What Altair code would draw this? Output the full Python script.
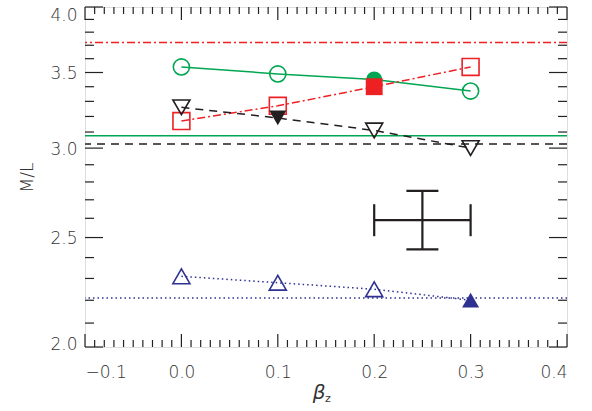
import altair as alt
import pandas as pd

# ---- data ----
beta = [0.0, 0.1, 0.2, 0.3]
ml_circle = [3.54, 3.49, 3.45, 3.37]   # green, solid
ml_square = [3.17, 3.27, 3.40, 3.54]   # red, dash-dot
ml_down = [3.26, 3.19, 3.11, 3.00]     # black, dashed
ml_up = [2.31, 2.28, 2.25, 2.20]       # blue, dotted
filled_circle = [False, False, True, False]
filled_square = [False, False, True, False]
filled_down = [False, True, False, False]
filled_up = [False, False, False, True]

ref_red = 3.72
ref_green = 3.076
ref_black = 3.025
ref_blue = 2.21

err_x = 0.25
err_y = 2.59
err_x_lo, err_x_hi = 0.20, 0.30
err_y_lo, err_y_hi = 2.44, 2.75

x_major = [-0.1, 0.0, 0.1, 0.2, 0.3, 0.4]
x_minor = [round(-0.1 + 0.01 * i, 2) for i in range(51) if i % 10 != 0]
y_major = [2.0, 2.5, 3.0, 3.5, 4.0]
y_minor = [round(2.0 + 0.1 * i, 1) for i in range(21) if i % 5 != 0]

GREEN = "#00a651"
RED = "#ed2024"
BLACK = "#231f20"
BLUE = "#2e3192"
FONT = "DejaVu Sans"

W, H = 482, 340

xscale = alt.Scale(domain=[-0.1, 0.4], nice=False, zero=False)
yscale = alt.Scale(type="log", domain=[2.0, 4.0], nice=False, zero=False)

xaxis = alt.Axis(values=x_major, format=".1f", ticks=False, domain=False, grid=False,
                 labelFontSize=17, labelPadding=17, labelColor="#333", labelFont=FONT,
                 labelFontWeight=300, title=None)
yaxis = alt.Axis(values=y_major, format=".1f", ticks=False, domain=False, grid=False,
                 labelFontSize=17, labelPadding=8, labelColor="#333", labelFont=FONT,
                 labelFontWeight=300, labelFlush=False, labelBaseline="middle",
                 labelOffset={"condition": [{"test": "datum.value >= 3.99", "value": 8},
                                            {"test": "datum.value <= 2.01", "value": -3}],
                              "value": 1},
                 title="M/L", titleFontSize=17, titleFont=FONT,
                 titleFontWeight=300, titleColor="#333", titlePadding=13)


def X(field):
    return alt.X(f"{field}:Q", scale=xscale, axis=xaxis, title=None)


def Y(field):
    return alt.Y(f"{field}:Q", scale=yscale, axis=yaxis, title="M/L")


layers = []

# horizontal reference levels
for lvl, col, dash in [(ref_red, RED, [8, 3, 2, 3]), (ref_green, GREEN, None),
                       (ref_black, BLACK, [8, 6]), (ref_blue, BLUE, [1.5, 3])]:
    kw = dict(color=col, strokeWidth=1.5)
    if dash:
        kw["strokeDash"] = dash
    layers.append(
        alt.Chart(pd.DataFrame({"m": [lvl]})).mark_rule(**kw).encode(y=Y("m"))
    )

series = [
    (ml_circle, filled_circle, GREEN, None, "circle", 260),
    (ml_square, filled_square, RED, [8, 3, 2, 3], "square", 285),
    (ml_down, filled_down, BLACK, [8, 6], "triangle-down", 290),
    (ml_up, filled_up, BLUE, [1.5, 3], "triangle-up", 290),
]

for vals, filled, col, dash, shape, size in series:
    df = pd.DataFrame({"b": beta, "m": vals, "f": filled})
    kw = dict(color=col, strokeWidth=1.5)
    if dash:
        kw["strokeDash"] = dash
    layers.append(alt.Chart(df).mark_line(**kw).encode(x=X("b"), y=Y("m")))

for vals, filled, col, dash, shape, size in series:
    df = pd.DataFrame({"b": beta, "m": vals, "f": filled})
    layers.append(
        alt.Chart(df).transform_filter("!datum.f").mark_point(
            shape=shape, size=size, color=col, strokeWidth=1.6, filled=False, opacity=1
        ).encode(x=X("b"), y=Y("m"))
    )
for vals, filled, col, dash, shape, size in series:
    df = pd.DataFrame({"b": beta, "m": vals, "f": filled})
    layers.append(
        alt.Chart(df).transform_filter("datum.f").mark_point(
            shape=shape, size=size, color=col, filled=True, opacity=1, strokeWidth=0
        ).encode(x=X("b"), y=Y("m"))
    )

# error cross
err = pd.DataFrame({"x": [err_x], "y": [err_y], "xlo": [err_x_lo], "xhi": [err_x_hi],
                    "ylo": [err_y_lo], "yhi": [err_y_hi]})
layers.append(alt.Chart(err).mark_rule(color=BLACK, strokeWidth=2.2).encode(
    x=X("xlo"), x2="xhi", y=Y("y")))
layers.append(alt.Chart(err).mark_rule(color=BLACK, strokeWidth=2.2).encode(
    x=X("x"), y=Y("ylo"), y2="yhi"))
caps_v = pd.DataFrame({"x": [err_x_lo, err_x_hi], "y": [err_y, err_y]})
caps_h = pd.DataFrame({"x": [err_x, err_x], "y": [err_y_lo, err_y_hi]})
layers.append(alt.Chart(caps_v).mark_tick(orient="vertical", size=32, thickness=2.2,
                                           color=BLACK, opacity=1).encode(x=X("x"), y=Y("y")))
layers.append(alt.Chart(caps_h).mark_tick(orient="horizontal", size=32, thickness=2.2,
                                           color=BLACK, opacity=1).encode(x=X("x"), y=Y("y")))

# inward tick marks on all four sides
TC = "#222"
for vals, ln in [(x_major, 13), (x_minor, 7)]:
    d = pd.DataFrame({"t": vals})
    layers.append(alt.Chart(d).mark_rule(color=TC, strokeWidth=1.2).encode(
        x=X("t"), y=alt.value(H), y2=alt.value(H - ln)))
    layers.append(alt.Chart(d).mark_rule(color=TC, strokeWidth=1.2).encode(
        x=X("t"), y=alt.value(0), y2=alt.value(ln)))
for vals, ln in [(y_major, 18), (y_minor, 9)]:
    d = pd.DataFrame({"t": vals})
    layers.append(alt.Chart(d).mark_rule(color=TC, strokeWidth=1.2).encode(
        y=Y("t"), x=alt.value(0), x2=alt.value(ln)))
    layers.append(alt.Chart(d).mark_rule(color=TC, strokeWidth=1.2).encode(
        y=Y("t"), x=alt.value(W - ln), x2=alt.value(W)))

# x axis title: beta with subscript z
layers.append(alt.Chart(pd.DataFrame({"s": ["β"]})).mark_text(
    font=FONT, fontSize=20, fontStyle="italic", align="center", baseline="alphabetic",
    color="#333").encode(text="s:N", x=alt.value(234), y=alt.value(H + 52)))
layers.append(alt.Chart(pd.DataFrame({"s": ["z"]})).mark_text(
    font=FONT, fontSize=11, align="center", baseline="alphabetic",
    color="#333").encode(text="s:N", x=alt.value(243), y=alt.value(H + 55)))

chart = alt.layer(*layers).properties(
    width=W, height=H,
    padding={"left": 85, "top": 7, "right": 25, "bottom": 64},
    autosize=alt.AutoSizeParams(type="none"),
).configure_view(stroke="#222", strokeWidth=1.5).configure(background="white")

chart.save("out.html", embed_options={"renderer": "svg", "actions": False})
